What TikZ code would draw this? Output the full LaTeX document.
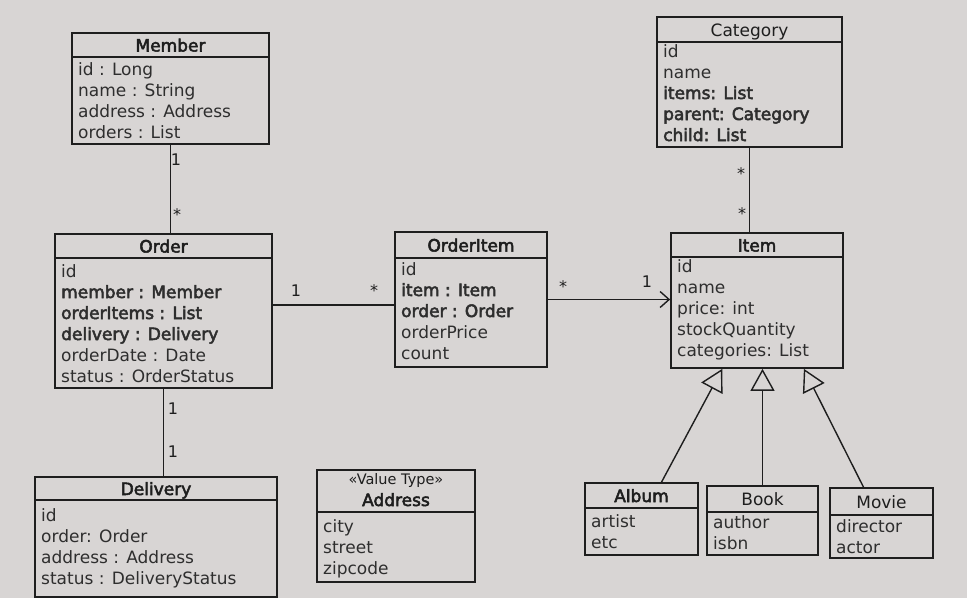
\documentclass[tikz,border=0pt]{standalone}
\usepackage{fontspec}
\setmainfont{DejaVu Sans}[BoldFont={DejaVu Sans}, BoldFeatures={FakeBold=3}]
\usetikzlibrary{arrows.meta,fit,calc}
\definecolor{pagebg}{HTML}{D8D5D4}
\definecolor{ink}{HTML}{1E1E1E}
\definecolor{inksoft}{HTML}{2E2E2E}
\tikzset{
  classbox/.style={draw=ink, line width=1.7pt, inner sep=0pt, fill=pagebg},
  classline/.style={draw=ink, line width=1.5pt},
  attr/.style={inner sep=0pt, text=inksoft, font=\fontsize{17}{20}\selectfont},
  ttl/.style={inner sep=0pt, text=ink, font=\fontsize{17}{20}\selectfont},
  conn/.style={draw=ink, line width=1.4pt},
  mult/.style={inner sep=0pt, text=ink, font=\fontsize{16}{18}\selectfont},
  gen/.style={conn, -{Triangle[length=22pt,width=24pt,fill=pagebg,line width=1.4pt]}},
  nav/.style={conn, -{Straight Barb[length=9pt,width=16pt,line width=1.4pt]}}
}
% #1 name, #2 x1, #3 y1, #4 x2, #5 y2, #6 ydiv, #7 title, #8 first baseline, #9 attributes
\newcommand{\umlclass}[9]{%
  \node[fit={(#2,#3) (#4,#5)}, classbox] (#1) {};
  \draw[classline] (#2,#6) -- (#4,#6);
  \node[ttl, anchor=base] (#1-title) at ({(#2+#4)/2},{(#3+#6)/2+6.5}) {#7};
  \foreach \t [count=\i] in {#9}
    \node[attr, anchor=base west] (#1-a\i) at ({#2+6},{#8+(\i-1)*21}) {\t};
}
\begin{document}
\begin{tikzpicture}[x=1pt,y=-1pt]
\fill[pagebg] (0,0) rectangle (967,598);
\useasboundingbox (0,0) rectangle (967,598);

\umlclass{member}{72}{33}{269}{144}{57}{\bfseries Member}{75}%
  {id : Long, name : String, address : Address, orders : List}
\umlclass{category}{657}{17}{842}{147}{42}{Category}{57}%
  {id, name, {\bfseries items: List}, {\bfseries parent: Category}, {\bfseries child: List}}
\umlclass{order}{55}{234}{272}{388}{258}{\bfseries Order}{277}%
  {id, {\bfseries member : Member}, {\bfseries orderItems : List}, {\bfseries delivery : Delivery}, orderDate : Date, status : OrderStatus}
\umlclass{orderitem}{395}{232}{547}{367}{258}{\bfseries OrderItem}{275}%
  {id, {\bfseries item : Item}, {\bfseries order : Order}, orderPrice, count}
\umlclass{item}{671}{233}{843}{368}{257}{\bfseries Item}{272}%
  {id, name, price: int, stockQuantity, categories: List}
\umlclass{delivery}{35}{477}{277}{597}{500}{\bfseries Delivery}{521}%
  {id, order: Order, address : Address, status : DeliveryStatus}
\umlclass{address}{317}{470}{475}{582}{512}{}{532}%
  {city, street, zipcode}
\node[ttl, anchor=base, font=\fontsize{14.5}{16}\selectfont] (address-stereo) at (396,484) {«Value Type»};
\node[ttl, anchor=base, font=\fontsize{17}{20}\selectfont\bfseries] (address-name) at (396,506) {Address};
\umlclass{album}{585}{483}{698}{555}{508}{\bfseries Album}{527}%
  {artist, etc}
\umlclass{book}{707}{486}{818}{555}{512}{Book}{528}%
  {author, isbn}
\umlclass{movie}{830}{488}{933}{558}{515}{Movie}{532}%
  {director, actor}

% associations
\draw[conn] (member.south) -- (member.south |- order.north);
\draw[conn] ([yshift=6pt]order.east) -- ([yshift=6pt]order.east -| orderitem.west);
\draw[nav] (orderitem.east) -- (orderitem.east -| item.west);
\draw[conn] (category.south) -- (category.south |- item.north);
\draw[conn] (order.south) -- (order.south |- delivery.north);

% generalizations
\draw[gen] ([xshift=20pt]album.north) -- ($(item.south west)!0.30!(item.south east)$);
\draw[gen] (book.north) -- (book.north |- item.south);
\draw[gen] ([xshift=-18pt]movie.north) -- ($(item.south west)!0.77!(item.south east)$);

% multiplicities
\node[mult] (m1) at (176,160) {1};
\node[mult] (m2) at (177,215) {*};
\node[mult] (m3) at (296,291) {1};
\node[mult] (m4) at (374,291) {*};
\node[mult] (m5) at (563,287) {*};
\node[mult] (m6) at (647,282) {1};
\node[mult] (m7) at (741,174) {*};
\node[mult] (m8) at (742,214) {*};
\node[mult] (m9) at (173,409) {1};
\node[mult] (m10) at (173,452) {1};
\end{tikzpicture}
\end{document}
